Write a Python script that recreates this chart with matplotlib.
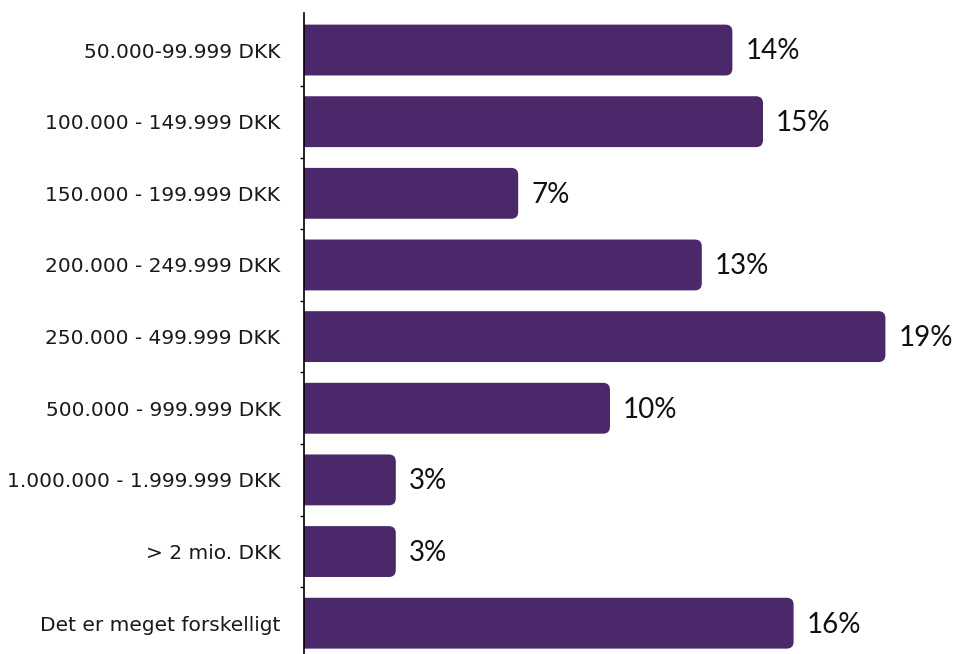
import matplotlib.pyplot as plt
from matplotlib.patches import FancyBboxPatch

# Income brackets and share of answers (%)
categories = [
    "50.000-99.999 DKK",
    "100.000 - 149.999 DKK",
    "150.000 - 199.999 DKK",
    "200.000 - 249.999 DKK",
    "250.000 - 499.999 DKK",
    "500.000 - 999.999 DKK",
    "1.000.000 - 1.999.999 DKK",
    "> 2 mio. DKK",
    "Det er meget forskelligt",
]
values = [14, 15, 7, 13, 19, 10, 3, 3, 16]

bar_color = "#4a2869"
bar_h = 0.71

fig = plt.figure(figsize=(9.54, 6.54), dpi=100)
ax = fig.add_axes([304 / 954, 0, 650 / 954, 641 / 654])

xmax = 650 / 30.6
ax.set_xlim(0, xmax)
ax.set_ylim(8.43, -0.517)

# data units per pixel, used to keep the corner radius round
px_x = xmax / 650
px_y = (8.43 + 0.517) / 641
radius = 7 * px_x

for i, v in enumerate(values):
    y0 = i - bar_h / 2
    # start left of the axis so the clip squares off the left corners
    ax.add_patch(FancyBboxPatch(
        (-2 * radius, y0), v + 2 * radius, bar_h,
        boxstyle=f"round,pad=0,rounding_size={radius}",
        mutation_aspect=px_y / px_x,
        fc=bar_color, ec="none"))
    ax.text(v + 0.42, i + 0.02, f"{v}%", va="center", ha="left",
            fontsize=20, family="Lato", color="#111111")

ax.set_yticks(range(len(categories)))
ax.set_yticklabels(categories, family="DejaVu Sans", fontsize=14.5,
                   color="#1a1a1a")
ax.set_yticks([i + 0.5 for i in range(len(categories) - 1)], minor=True)
ax.tick_params(axis="y", which="major", length=0, pad=17)
ax.tick_params(axis="y", which="minor", length=3, width=1, direction="out")
ax.set_xticks([])

for side in ["top", "right", "bottom"]:
    ax.spines[side].set_visible(False)
ax.spines["left"].set_linewidth(1.2)

fig.savefig("out.png", dpi=100)
